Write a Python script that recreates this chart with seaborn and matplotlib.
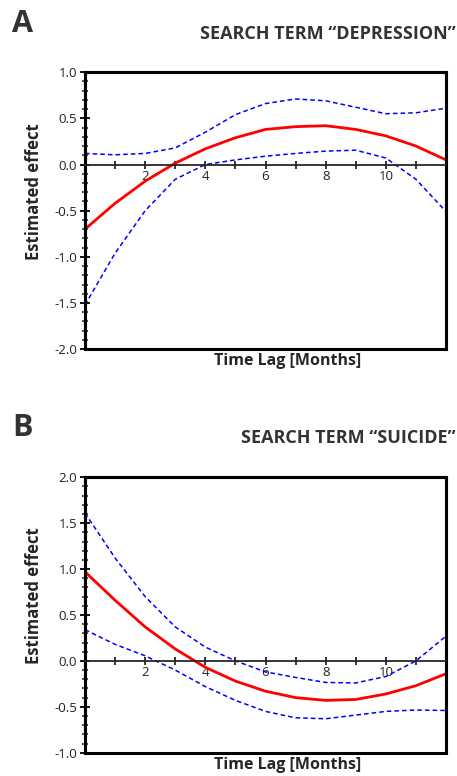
import numpy as np
import pandas as pd
import matplotlib
matplotlib.use("Agg")
import matplotlib.pyplot as plt
import seaborn as sns
from matplotlib.ticker import MultipleLocator

# lags in months
lag = list(range(13))

# panel A: search term "depression"
dep_est = [-0.70, -0.42, -0.18, 0.015, 0.17, 0.29, 0.38, 0.41, 0.42, 0.38, 0.31, 0.20, 0.05]
dep_hi = [0.12, 0.105, 0.12, 0.18, 0.35, 0.54, 0.66, 0.71, 0.69, 0.62, 0.55, 0.56, 0.61]
dep_lo = [-1.52, -0.96, -0.50, -0.16, 0.0, 0.05, 0.09, 0.12, 0.145, 0.155, 0.07, -0.16, -0.51]

# panel B: search term "suicide"
sui_est = [0.97, 0.66, 0.37, 0.13, -0.07, -0.22, -0.33, -0.40, -0.43, -0.42, -0.36, -0.27, -0.14]
sui_hi = [1.61, 1.12, 0.70, 0.37, 0.15, 0.0, -0.12, -0.18, -0.235, -0.24, -0.17, 0.0, 0.27]
sui_lo = [0.34, 0.18, 0.055, -0.10, -0.28, -0.43, -0.55, -0.62, -0.63, -0.59, -0.55, -0.535, -0.54]

xtick_pos = list(range(1, 12))
xtick_lab = [str(i) if i % 2 == 0 else "" for i in xtick_pos]

sns.set_style("white")
plt.rcParams['font.family'] = ['Open Sans', 'DejaVu Sans']

fig = plt.figure(figsize=(4.57, 7.76), dpi=100)
axA = fig.add_axes([0.186, 0.550, 0.790, 0.357])
axB = fig.add_axes([0.186, 0.030, 0.790, 0.355])


def panel(ax, est, hi, lo, ylim, letter, title, ylet, ytitle):
    df = pd.DataFrame({'lag': lag, 'est': est, 'hi': hi, 'lo': lo})
    sns.lineplot(data=df, x='lag', y='hi', ax=ax, color='#0000ff', lw=1.1,
                 linestyle=(0, (3, 2)))
    sns.lineplot(data=df, x='lag', y='lo', ax=ax, color='#0000ff', lw=1.1,
                 linestyle=(0, (3, 2)))
    sns.lineplot(data=df, x='lag', y='est', ax=ax, color='#ff0000', lw=2.0)
    ax.set_xlim(0, 12)
    ax.set_ylim(*ylim)
    ax.yaxis.set_major_locator(MultipleLocator(0.5))
    ax.yaxis.set_minor_locator(MultipleLocator(0.1))
    ax.yaxis.set_major_formatter(matplotlib.ticker.FormatStrFormatter('%.1f'))
    ax.set_xticks(xtick_pos)
    ax.set_xticklabels(xtick_lab)
    ax.spines['bottom'].set_position(('data', 0))
    ax.spines['bottom'].set_linewidth(1.3)
    for s in ['top', 'left', 'right']:
        ax.spines[s].set_linewidth(2.2)
        ax.spines[s].set_color('black')
    ax.patch.set_edgecolor('black')
    ax.patch.set_linewidth(2.2)
    ax.tick_params(axis='y', which='major', direction='inout', length=7, width=1.3,
                   labelsize=9.5, colors='black', left=True, pad=2)
    ax.tick_params(axis='y', which='minor', direction='inout', length=5, width=1.1, left=True)
    ax.tick_params(axis='x', which='major', direction='inout', length=6, width=1.3,
                   labelsize=9.5, bottom=True, pad=1)
    for lab in ax.get_yticklabels() + ax.get_xticklabels():
        lab.set_color('#222222')
    ax.set_xlabel('Time Lag [Months]', fontsize=11.5, fontweight='bold')
    ax.xaxis.set_label_coords(0.56, -0.015)
    ax.xaxis.label.set_va('top')
    ax.set_ylabel('Estimated effect', fontsize=12, fontweight='bold')
    ax.yaxis.set_label_coords(-0.115, 0.57)
    fig.text(0.026, ylet, letter, fontsize=22, fontweight='bold', color='#333333', va='center')
    fig.text(0.997, ytitle, title, fontsize=13, fontweight='bold', color='#333333',
             ha='right', va='center')


panel(axA, dep_est, dep_hi, dep_lo, (-2.0, 1.0), 'A', 'SEARCH TERM \u201cDEPRESSION\u201d', 0.969, 0.956)
panel(axB, sui_est, sui_hi, sui_lo, (-1.0, 2.0), 'B', 'SEARCH TERM \u201cSUICIDE\u201d', 0.448, 0.436)

fig.savefig('out.png', dpi=100)
